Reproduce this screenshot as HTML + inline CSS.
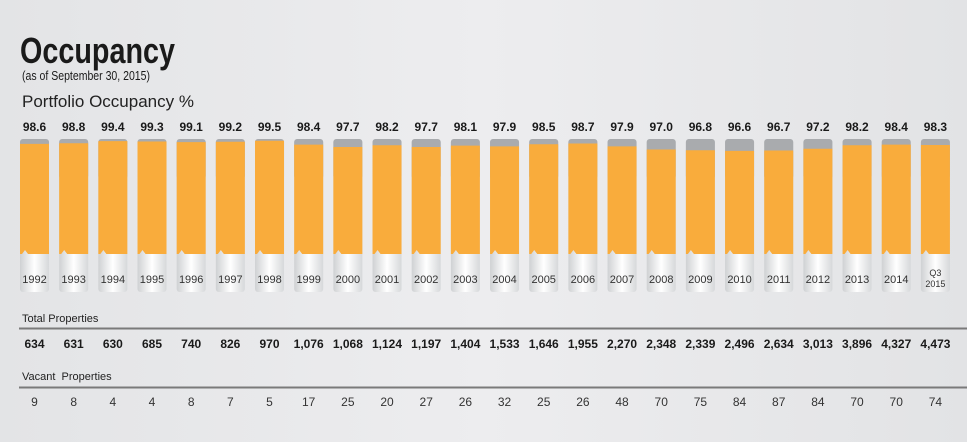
<!DOCTYPE html>
<html><head><meta charset="utf-8"><style>
html,body{margin:0;width:967px;height:442px;overflow:hidden;background:#e7e8ea;font-family:"Liberation Sans",sans-serif;}
svg{display:block;}
</style></head><body>
<svg width="967" height="442">
<defs>
<linearGradient id="wg" x1="0" x2="1" y1="0" y2="0"><stop offset="0" stop-color="#cfd1d3"/><stop offset="0.5" stop-color="#ffffff"/><stop offset="1" stop-color="#d6d8da"/></linearGradient>
<linearGradient id="bg" x1="0" x2="1" y1="0" y2="0"><stop offset="0" stop-color="#e3e4e6"/><stop offset="0.5" stop-color="#ededef"/><stop offset="1" stop-color="#e2e3e5"/></linearGradient>
</defs>
<rect width="967" height="442" fill="url(#bg)"/>
<text x="20" y="63" font-family="Liberation Sans Narrow, Liberation Sans, sans-serif" font-weight="bold" font-size="36" fill="#1a1a1a" textLength="155" lengthAdjust="spacingAndGlyphs">Occupancy</text>
<text x="22" y="80" font-size="13" fill="#1a1a1a" textLength="128" lengthAdjust="spacingAndGlyphs">(as of September 30, 2015)</text>
<text x="22" y="107" font-size="17" fill="#222">Portfolio Occupancy %</text>
<text x="22" y="322" font-size="11" fill="#222">Total Properties</text>
<line x1="19" y1="328.5" x2="967" y2="328.5" stroke="#7a7a7a" stroke-width="2"/>
<text x="22" y="380" font-size="11" fill="#222">Vacant&#160; Properties</text>
<line x1="19" y1="387.5" x2="967" y2="387.5" stroke="#7a7a7a" stroke-width="2"/>
<g id="bars"></g>
</svg>
<script>
const years=["1992","1993","1994","1995","1996","1997","1998","1999","2000","2001","2002","2003","2004","2005","2006","2007","2008","2009","2010","2011","2012","2013","2014","Q3 2015"];
const occupancy=[98.6,98.8,99.4,99.3,99.1,99.2,99.5,98.4,97.7,98.2,97.7,98.1,97.9,98.5,98.7,97.9,97.0,96.8,96.6,96.7,97.2,98.2,98.4,98.3];
const totalProps=["634","631","630","685","740","826","970","1,076","1,068","1,124","1,197","1,404","1,533","1,646","1,955","2,270","2,348","2,339","2,496","2,634","3,013","3,896","4,327","4,473"];
const vacantProps=[9,8,4,4,8,7,5,17,25,20,27,26,32,25,26,48,70,75,84,87,84,70,70,74];

const NS="http://www.w3.org/2000/svg";
const barGroup=document.getElementById('bars');
const colX0=34.5,colPitch=39.17,barW=29,barTop=139,notchY=254,barBot=292;
function xc(i){return colX0+i*colPitch;}
function yv(v){return barTop+(100-v)*3.5;}
function mk(tag,attrs,txt){const e=document.createElementNS(NS,tag);for(const k in attrs)e.setAttribute(k,attrs[k]);if(txt!==undefined)e.textContent=txt;barGroup.appendChild(e);return e;}
years.forEach((y,i)=>{
  const cx=xc(i),l=cx-barW/2;
  let e=mk('rect',{x:l,y:barTop,width:barW,height:barBot-barTop,rx:3,fill:'url(#wg)'});
  
  
  e=mk('rect',{x:l,y:barTop,width:barW,height:40,rx:3,fill:'#a9abae'});
  
  
  const yt=yv(occupancy[i]);
  e=mk('path',{d:`M${l} ${yt}H${l+barW}V${notchY}H${l+8}L${l+5} ${notchY-4}L${l+2} ${notchY}H${l}Z`,fill:'#f9ac3c'});
  
  
  e=mk('text',{x:cx,y:131,'text-anchor':'middle','font-size':12,'font-weight':'bold',fill:'#1a1a1a'},occupancy[i].toFixed(1));
  
  
  if(y.indexOf(' ')>0){
    const p=y.split(' ');
    e=mk('text',{x:cx,y:276,'text-anchor':'middle','font-size':9,fill:'#333'},p[0]);
    
    
    e=mk('text',{x:cx,y:287,'text-anchor':'middle','font-size':9,fill:'#333'},p[1]);
    
    
  }else{
    e=mk('text',{x:cx,y:283,'text-anchor':'middle','font-size':11,fill:'#333'},y);
    
    
  }
  e=mk('text',{x:cx,y:348,'text-anchor':'middle','font-size':12,'font-weight':'bold',fill:'#1a1a1a'},totalProps[i]);
  
  
  e=mk('text',{x:cx,y:406,'text-anchor':'middle','font-size':12,fill:'#333'},String(vacantProps[i]));
  
  
});
</script>
</body></html>
